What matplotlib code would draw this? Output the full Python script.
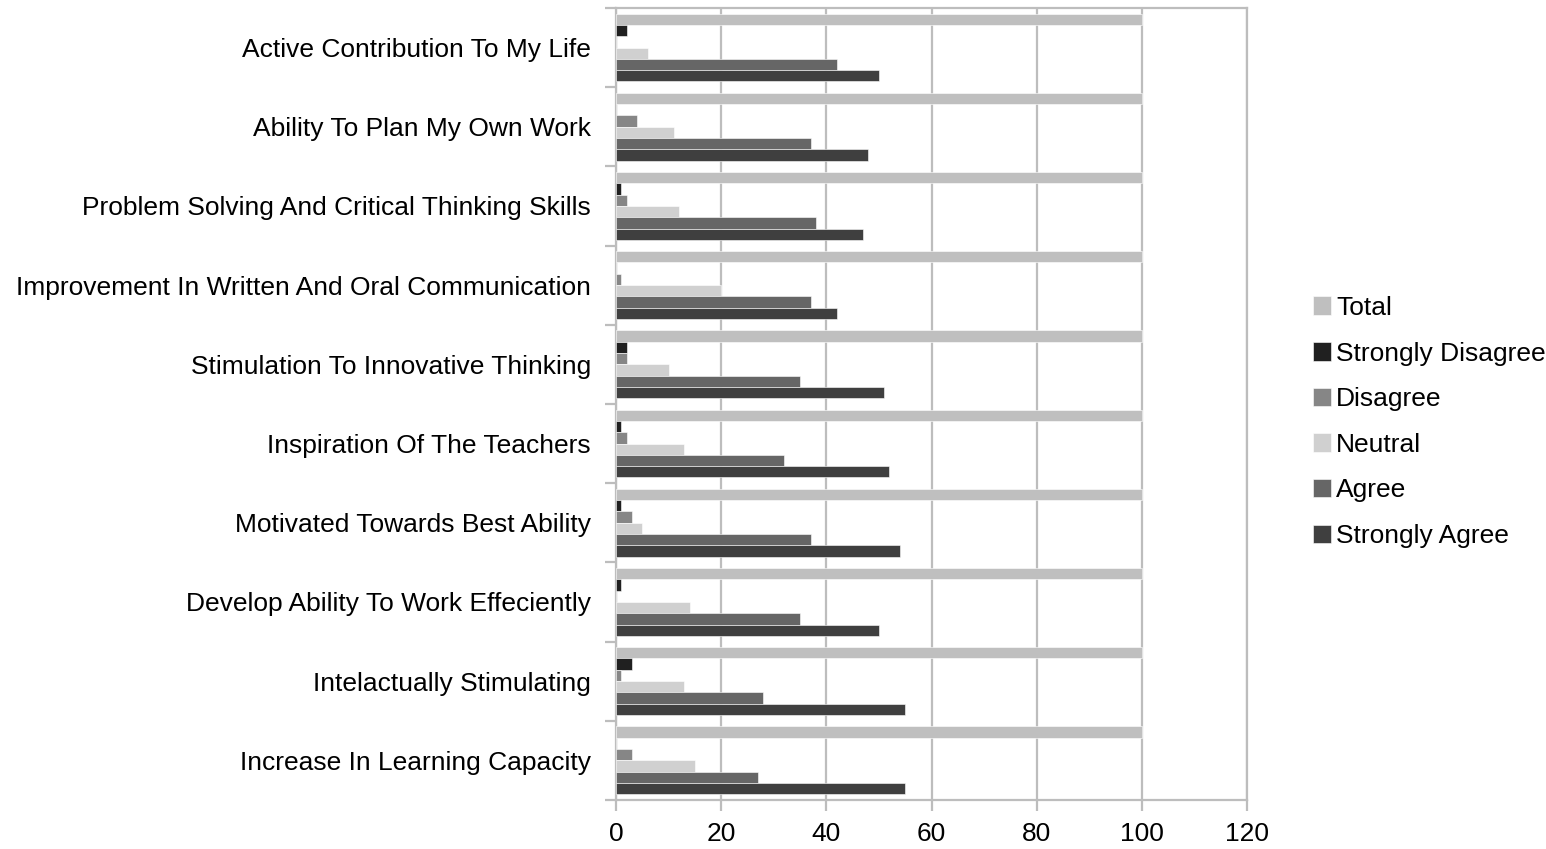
import numpy as np
import matplotlib
matplotlib.use("Agg")
import matplotlib.pyplot as plt

plt.rcParams['font.family'] = ['Liberation Sans', 'DejaVu Sans']

categories = [
    "Active Contribution To My Life",
    "Ability To Plan My Own Work",
    "Problem Solving And Critical Thinking Skills",
    "Improvement In Written And Oral Communication",
    "Stimulation To Innovative Thinking",
    "Inspiration Of The Teachers",
    "Motivated Towards Best Ability",
    "Develop Ability To Work Effeciently",
    "Intelactually Stimulating",
    "Increase In Learning Capacity",
]

total = [100, 100, 100, 100, 100, 100, 100, 100, 100, 100]
strongly_disagree = [2, 0, 1, 0, 2, 1, 1, 1, 3, 0]
disagree = [0, 4, 2, 1, 2, 2, 3, 0, 1, 3]
neutral = [6, 11, 12, 20, 10, 13, 5, 14, 13, 15]
agree = [42, 37, 38, 37, 35, 32, 37, 35, 28, 27]
strongly_agree = [50, 48, 47, 42, 51, 52, 54, 50, 55, 55]

series_names = ["Total", "Strongly Disagree", "Disagree", "Neutral", "Agree", "Strongly Agree"]
series_vals = [total, strongly_disagree, disagree, neutral, agree, strongly_agree]
colors = ["#bfbfbf", "#202020", "#868686", "#d0d0d0", "#666666", "#3f3f3f"]

fs = 19

fig = plt.figure(figsize=(15.46, 8.49), dpi=100)
ax = fig.add_axes([616/1546, 1 - 800/849, (1247-616)/1546, (800-8)/849])

n = len(categories)
bh = 0.143
start = 0.07
idx = np.arange(n)
for k, (name, vals, c) in enumerate(zip(series_names, series_vals, colors)):
    y = idx + start + k * bh
    ax.barh(y, vals, height=bh, align='edge', color=c, label=name,
            edgecolor='white', linewidth=0.4, zorder=3)

ax.set_ylim(n, 0)
ax.set_xlim(0, 120)
ax.set_xticks(np.arange(0, 121, 20))
ax.set_yticks(idx + 0.5)
ax.set_yticklabels(categories)
ax.set_yticks(np.arange(0, n + 1), minor=True)

grid_c = "#bdbdbd"
ax.grid(axis='x', color=grid_c, linewidth=1.6, zorder=0)
for s in ax.spines.values():
    s.set_color(grid_c)
    s.set_linewidth(1.6)

ax.tick_params(axis='y', which='major', length=0, pad=18, labelsize=fs)
ax.tick_params(axis='y', which='minor', length=8, width=1.6, color=grid_c)
ax.tick_params(axis='x', length=8, width=1.6, color=grid_c, pad=8, labelsize=fs)

leg = ax.legend(loc='center left', bbox_to_anchor=(1302/1546, 1 - 422/849),
                bbox_transform=fig.transFigure, frameon=False, fontsize=fs,
                handlelength=0.7, handleheight=0.7, handletextpad=0.2,
                labelspacing=0.82, borderaxespad=0)

fig.savefig("out.png", dpi=100)
